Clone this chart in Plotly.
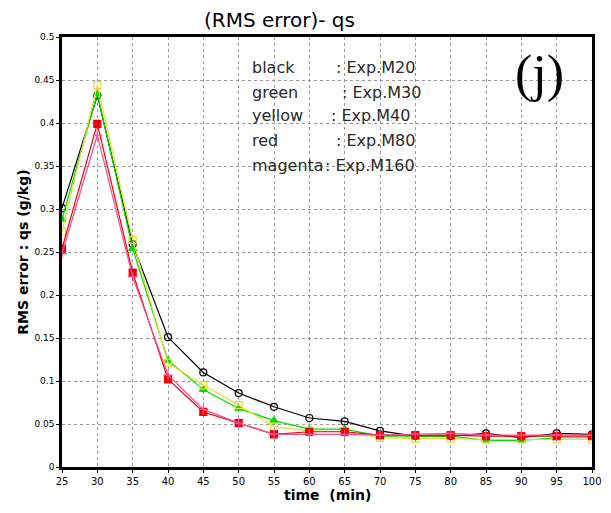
import plotly.graph_objects as go

time_min = [25, 30, 35, 40, 45, 50, 55, 60, 65, 70, 75, 80, 85, 90, 95, 100]

rms_m20 = [0.301, 0.432, 0.259, 0.151, 0.110, 0.086, 0.070, 0.057, 0.053, 0.042, 0.036, 0.036, 0.039, 0.034, 0.039, 0.038]
rms_m30 = [0.288, 0.434, 0.254, 0.124, 0.090, 0.068, 0.054, 0.044, 0.044, 0.036, 0.036, 0.036, 0.031, 0.031, 0.034, 0.034]
rms_m40 = [0.274, 0.444, 0.264, 0.121, 0.095, 0.072, 0.047, 0.042, 0.041, 0.034, 0.033, 0.033, 0.032, 0.032, 0.032, 0.032]
rms_m80 = [0.254, 0.399, 0.226, 0.102, 0.064, 0.051, 0.038, 0.041, 0.041, 0.037, 0.037, 0.037, 0.036, 0.036, 0.036, 0.036]
rms_m160 = [0.248, 0.386, 0.221, 0.107, 0.067, 0.051, 0.038, 0.038, 0.038, 0.037, 0.038, 0.039, 0.037, 0.037, 0.037, 0.037]

series = [
    ("Exp.M20", rms_m20, "#000000", "circle-open"),
    ("Exp.M30", rms_m30, "#00dc00", "triangle-up"),
    ("Exp.M40", rms_m40, "#e6dc32", "square-open"),
    ("Exp.M80", rms_m80, "#f00000", "square"),
    ("Exp.M160", rms_m160, "#f0509a", "cross-thin-open"),
]

legend_words = ["black", "green", "yellow", "red", "magenta"]
legend_exps = ["Exp.M20", "Exp.M30", "Exp.M40", "Exp.M80", "Exp.M160"]

y_ticks = [0, 0.05, 0.1, 0.15, 0.2, 0.25, 0.3, 0.35, 0.4, 0.45, 0.5]
y_ticktext = ["0", "0.05", "0.1", "0.15", "0.2", "0.25", "0.3", "0.35", "0.4", "0.45", "0.5"]
x_ticks = [25, 30, 35, 40, 45, 50, 55, 60, 65, 70, 75, 80, 85, 90, 95, 100]

fig = go.Figure()
for name, vals, col, sym in series:
    fig.add_trace(go.Scatter(
        x=time_min, y=vals, mode="lines+markers", name=name,
        line=dict(color=col, width=1.2),
        marker=dict(symbol=sym, size=7, color=col, line=dict(color=col, width=1.2)),
    ))

W, H = 611, 513
ml, mr, mt, mb = 62, 9, 37, 46
PW, PH = W - ml - mr, H - mt - mb

fig.update_layout(
    width=W, height=H,
    margin=dict(l=ml, r=mr, t=mt, b=mb),
    paper_bgcolor="white", plot_bgcolor="white",
    showlegend=False,
    font=dict(family="DejaVu Sans", color="#000000"),
)
fig.update_xaxes(
    range=[25, 100], tickvals=x_ticks, ticktext=[str(v) for v in x_ticks],
    showgrid=True, gridcolor="#9a9a9a", griddash="dot", gridwidth=1,
    showline=True, linecolor="black", linewidth=2.5, mirror=True,
    ticks="outside", ticklen=3, tickcolor="black",
    tickfont=dict(size=10, family="DejaVu Sans"), zeroline=False,
)
fig.update_yaxes(
    range=[0, 0.5], tickvals=y_ticks, ticktext=y_ticktext,
    showgrid=True, gridcolor="#9a9a9a", griddash="dot", gridwidth=1,
    showline=True, linecolor="black", linewidth=2.5, mirror=True,
    ticks="outside", ticklen=3, tickcolor="black",
    tickfont=dict(size=9, family="DejaVu Sans"), zeroline=False,
)

def px_x(p):
    return (p - ml) / PW

def px_y(p):
    return (H - mb - p) / PH

ann = []
ann.append(dict(x=px_x(284), y=px_y(20), xref="paper", yref="paper", text="(RMS error)- qs",
                showarrow=False, font=dict(size=20, family="DejaVu Sans"), xanchor="center", yanchor="middle"))
ann.append(dict(x=px_x(332), y=px_y(495), xref="paper", yref="paper", text="<b>time  (min)</b>",
                showarrow=False, font=dict(size=14, family="DejaVu Sans"), xanchor="center", yanchor="middle"))
ann.append(dict(x=px_x(22), y=px_y(252), xref="paper", yref="paper", text="<b>RMS error : qs (g/kg)</b>",
                showarrow=False, textangle=-90, font=dict(size=14, family="DejaVu Sans"),
                xanchor="center", yanchor="middle"))
ann.append(dict(x=px_x(549), y=px_y(74), xref="paper", yref="paper", text="(j)",
                showarrow=False, font=dict(size=52, family="Liberation Serif"), xanchor="center", yanchor="middle"))

colon_x = [340, 346, 335, 340, 329]
line_y = [67, 92, 116, 140, 165]
for w, e, cx, ly in zip(legend_words, legend_exps, colon_x, line_y):
    ann.append(dict(x=px_x(254), y=px_y(ly), xref="paper", yref="paper", text=w, showarrow=False,
                    font=dict(size=16, family="DejaVu Sans", color="#2a2a2a"), xanchor="left", yanchor="middle"))
    ann.append(dict(x=px_x(cx - 1), y=px_y(ly), xref="paper", yref="paper", text=": " + e, showarrow=False,
                    font=dict(size=16, family="DejaVu Sans", color="#2a2a2a"), xanchor="left", yanchor="middle"))
fig.update_layout(annotations=ann)

fig.write_html("out.html")
